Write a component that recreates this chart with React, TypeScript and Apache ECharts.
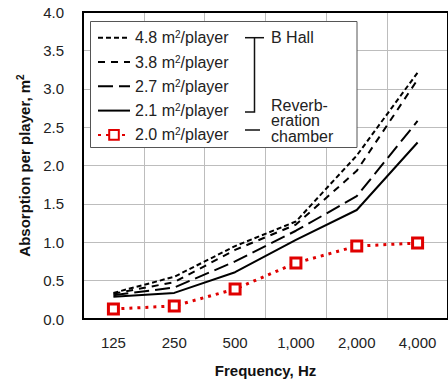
import React, { useEffect, useRef } from "react";
import * as echarts from "echarts";

const categories = ["125", "250", "500", "1,000", "2,000", "4,000"];
const yTicks = [0, 0.5, 1, 1.5, 2, 2.5, 3, 3.5, 4];
const hall48 = [0.34, 0.55, 0.95, 1.27, 2.13, 3.21];
const hall38 = [0.33, 0.48, 0.9, 1.23, 1.93, 3.12];
const hall27 = [0.31, 0.41, 0.75, 1.15, 1.6, 2.58];
const hall21 = [0.29, 0.34, 0.61, 1.03, 1.42, 2.3];
const reverb20 = [0.13, 0.17, 0.39, 0.73, 0.95, 0.99];
const seriesNames = ["4.8", "3.8", "2.7", "2.1", "2.0"];

const FONT = "Liberation Sans, Arial, sans-serif";

export default function App() {
  const ref = useRef<HTMLDivElement>(null);
  useEffect(() => {
    document.body.style.margin = "0";
    const chart = echarts.init(ref.current!, null, { renderer: "svg" });
    const black = "#000";
    const lineSeries = (name: string, data: number[], type: any) => ({
      name,
      type: "line",
      data,
      symbol: "none",
      z: 2,
      lineStyle: { color: black, width: 2, type },
      itemStyle: { color: black },
    });
    const option: any = {
      animation: false,
      textStyle: { fontFamily: FONT },
      grid: {
        left: 83,
        right: 0,
        top: 12,
        bottom: 66,
        show: true,
        borderColor: "#000",
        borderWidth: 2,
        z: 3,
      },
      xAxis: {
        type: "category",
        data: categories,
        boundaryGap: true,
        name: "Frequency, Hz",
        nameLocation: "middle",
        nameGap: 44,
        nameTextStyle: { fontSize: 15, fontWeight: "bold", color: "#111", fontFamily: FONT },
        axisLine: { show: false },
        axisTick: { show: false },
        axisLabel: { fontSize: 15, color: "#222", margin: 16, fontFamily: FONT },
        splitLine: { show: true, lineStyle: { color: "#bdbdbd", width: 1 } },
      },
      yAxis: {
        type: "value",
        min: yTicks[0],
        max: yTicks[yTicks.length - 1],
        interval: 0.5,
        name: "{a|Absorption per player, m}{s|2}",
        nameLocation: "middle",
        nameRotate: 90,
        nameGap: 48,
        nameTextStyle: {
          rich: {
            a: { fontSize: 15, fontWeight: "bold", color: "#111", fontFamily: FONT, lineHeight: 18 },
            s: { fontSize: 10, fontWeight: "bold", color: "#111", fontFamily: FONT, lineHeight: 18, verticalAlign: "top" },
          },
        },
        axisLine: { show: false },
        axisTick: { show: false },
        axisLabel: {
          fontSize: 15,
          color: "#222",
          margin: 19,
          fontFamily: FONT,
          formatter: (v: number) => v.toFixed(1),
        },
        splitLine: { show: true, lineStyle: { color: "#bdbdbd", width: 1 } },
      },
      legend: {
        orient: "vertical",
        left: 97,
        top: 29.7,
        padding: 0,
        itemWidth: 32,
        itemHeight: 12,
        itemGap: 8.3,
        z: 5,
        data: seriesNames.map((n, i) =>
          i < 4 ? { name: n, itemStyle: { opacity: 0 } } : { name: n }
        ),
        formatter: (n: string) => `{a|${n} m}{s|2}{a|/player}`,
        textStyle: {
          rich: {
            a: { fontSize: 16, color: "#222", fontFamily: FONT, lineHeight: 16 },
            s: { fontSize: 10, color: "#222", fontFamily: FONT, lineHeight: 16, verticalAlign: "top" },
          },
        },
      },
      graphic: [
        {
          type: "rect",
          z: 4,
          shape: { x: 90.5, y: 21.5, width: 266.5, height: 126 },
          style: { fill: "#fff", stroke: "#555", lineWidth: 1 },
        },
        {
          type: "polyline",
          z: 5,
          shape: { points: [[245, 37.7], [264, 37.7]] },
          style: { stroke: "#111", lineWidth: 1.5, fill: "none" },
        },
        {
          type: "polyline",
          z: 5,
          shape: { points: [[254.5, 37.7], [254.5, 112], [245, 112]] },
          style: { stroke: "#111", lineWidth: 1.5, fill: "none" },
        },
        {
          type: "line",
          z: 5,
          shape: { x1: 245, y1: 130, x2: 260, y2: 130 },
          style: { stroke: "#111", lineWidth: 1.5 },
        },
        {
          type: "text",
          z: 5,
          x: 271,
          y: 37.7,
          style: { text: "B Hall", fontSize: 16, fill: "#222", fontFamily: FONT, verticalAlign: "middle" },
        },
        {
          type: "text",
          z: 5,
          x: 271,
          y: 97.5,
          style: {
            text: "Reverb-\neration\nchamber",
            fontSize: 16,
            lineHeight: 15.5,
            fill: "#222",
            fontFamily: FONT,
            verticalAlign: "top",
          },
        },
      ],
      series: [
        lineSeries("4.8", hall48, [5, 3]),
        lineSeries("3.8", hall38, [7, 6]),
        lineSeries("2.7", hall27, [15, 6]),
        lineSeries("2.1", hall21, "solid"),
        {
          name: "2.0",
          type: "line",
          data: reverb20,
          z: 2,
          symbol: "rect",
          symbolSize: 10,
          lineStyle: { color: "#e00000", width: 3, type: [3, 5] },
          itemStyle: { color: "#fff", borderColor: "#e00000", borderWidth: 3 },
        },
      ],
    };
    chart.setOption(option);
    return () => chart.dispose();
  }, []);
  return <div ref={ref} style={{ width: 448, height: 385 }} />;
}
